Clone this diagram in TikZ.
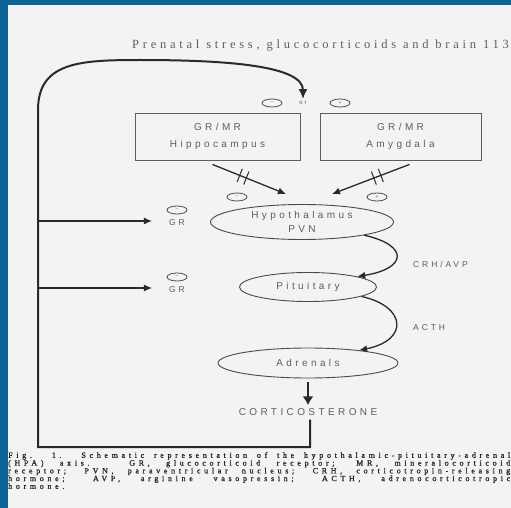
\documentclass[tikz,border=0pt]{standalone}
\usepackage{fontspec}
\setmainfont{Liberation Serif}
\newfontfamily\labelfont[LetterSpace=34]{Liberation Sans}
\newfontfamily\headfont[LetterSpace=30]{Liberation Serif}
\newfontfamily\capfont[LetterSpace=46,FakeBold=1.5]{Liberation Serif}
\usetikzlibrary{shapes.geometric,arrows.meta,calc}
\definecolor{slideblue}{HTML}{0B6496}
\definecolor{paper}{HTML}{F3F3F3}
\definecolor{ink}{HTML}{2A2A2A}
\definecolor{printgray}{HTML}{5E5E5E}
\tikzset{
    organ/.style={draw=printgray, line width=0.9pt, minimum width=165pt, minimum height=47pt, inner sep=0pt, align=center, text=printgray, font=\labelfont\fontsize{10}{17}\selectfont},
    nucleus/.style={ellipse, draw=ink!85, line width=0.9pt, inner sep=0pt, align=center, text=printgray, font=\labelfont\fontsize{10}{14}\selectfont},
    sign/.style={ellipse, draw=ink!85, line width=0.8pt, minimum width=20pt, minimum height=8pt, inner sep=0pt, text=printgray, font=\labelfont\fontsize{5}{5}\selectfont},
    tag/.style={inner sep=0pt, text=printgray, font=\labelfont\fontsize{8.5}{8.5}\selectfont},
    feedback/.style={draw=ink, line width=2pt},
    hormone/.style={draw=ink, line width=1.3pt, -{Latex[length=8pt,width=7pt]}}
}
\begin{document}
\begin{tikzpicture}[x=1pt,y=-1pt]
        \useasboundingbox (0,0) rectangle (511,508);
        \fill[paper] (0,0) rectangle (511,508);
        \fill[slideblue] (0,0) rectangle (511,5);
        \fill[slideblue] (0,0) rectangle (8,508);

        \node (title) at (509,46)[anchor=east, inner sep=0pt, text=printgray, font=\headfont\fontsize{12.5}{12.5}\selectfont]{Prenatal stress, glucocorticoids and brain 113};

        \node (hippo) at (217.5,136.5)[organ]{GR/MR\\Hippocampus};
        \node (amyg) at (400.5,136.5)[organ, minimum width=161pt]{GR/MR\\Amygdala};
        \node (hneg) at (272,103)[sign]{−};
        \node (orlabel) at (303,103)[tag, font=\labelfont\fontsize{6}{6}\selectfont]{or};
        \node (apos) at (340,103)[sign]{+};

        \node (hypo) at (302,222)[nucleus, minimum width=183pt, minimum height=35pt]{Hypothalamus\\PVN};
        \node (hnegb) at (237,197)[sign]{−};
        \node (aposb) at (377,197)[sign]{+};
        \coordinate (hin) at (286,194);
        \coordinate (ain) at (332,194);
        \coordinate (hout) at ([xshift=-5pt,yshift=-4pt]hippo.south);
        \coordinate (aout) at ([xshift=9pt,yshift=-4pt]amyg.south);
        \draw[hormone] (hout) -- (hin);
        \draw[hormone] (aout) -- (ain);
        \foreach \p in {0.37,0.46}
            {
                \draw[ink, line width=1pt] ($(hout)!\p!(hin)!7pt!90:(hin)$) -- ($(hout)!\p!(hin)!7pt!-90:(hin)$);
                \draw[ink, line width=1pt] ($(aout)!\p!(ain)!7pt!90:(ain)$) -- ($(aout)!\p!(ain)!7pt!-90:(ain)$);
            }

        \node (pit) at (308,287)[nucleus, minimum width=137pt, minimum height=29pt]{Pituitary};
        \node (adr) at (308,363)[nucleus, minimum width=180pt, minimum height=30pt]{Adrenals};
        \node (cort) at (308,412)[tag, font=\labelfont\fontsize{10}{10}\selectfont]{CORTICOSTERONE};
        \node (crh) at (413,264)[tag, anchor=west]{CRH/AVP};
        \node (acth) at (413,328)[tag, anchor=west]{ACTH};

        \draw[hormone] (hypo.-12) .. controls +(45,10) and +(50,-8) .. (pit.12);
        \draw[hormone] (pit.-10) .. controls +(45,10) and +(50,-10) .. (adr.14);
        \draw[draw=ink, line width=2.6pt, -{Latex[length=9pt,width=11pt]}, shorten <=4pt, shorten >=3pt] (adr.south) -- (cort.north);

        \coordinate (loopbl) at (38,447);
        \coordinate (looptl) at (38,110);
        \coordinate (looptop) at (140,60);
        \draw[feedback, -{Latex[length=10pt,width=9pt]}, shorten >=2pt] ([xshift=2pt,yshift=-4pt]cort.south) |- (loopbl) -- (looptl) .. controls +(0,-48) and +(-60,0) .. (looptop) .. controls +(90,0) and +(0,-35) .. (orlabel.north);

        \foreach \n/\y in {a/210,b/277}
            {
                \node (sign\n) at (177,\y)[sign]{−};
                \node (gr\n) at (177,\y+13)[tag]{GR};
                \coordinate (tap\n) at (38,\y+11);
                \draw[hormone, shorten >=17pt] (tap\n) -- (tap\n -| gr\n.west);
            }

        \node (caption) at (8,452)[anchor=north west, inner sep=0pt, align=left, text=ink, font=\capfont\fontsize{8}{7.75}\selectfont]{\makebox[502pt][s]{Fig. 1. Schematic representation of the hypothalamic-pituitary-adrenal}\\
            \makebox[502pt][s]{(HPA) axis. GR, glucocorticoid receptor; MR, mineralocorticoid}\\
            \makebox[502pt][s]{receptor; PVN, paraventricular nucleus; CRH, corticotropin-releasing}\\
            \makebox[502pt][s]{hormone; AVP, arginine vasopressin; ACTH, adrenocorticotropic}\\
            hormone.};
\end{tikzpicture}
\end{document}
